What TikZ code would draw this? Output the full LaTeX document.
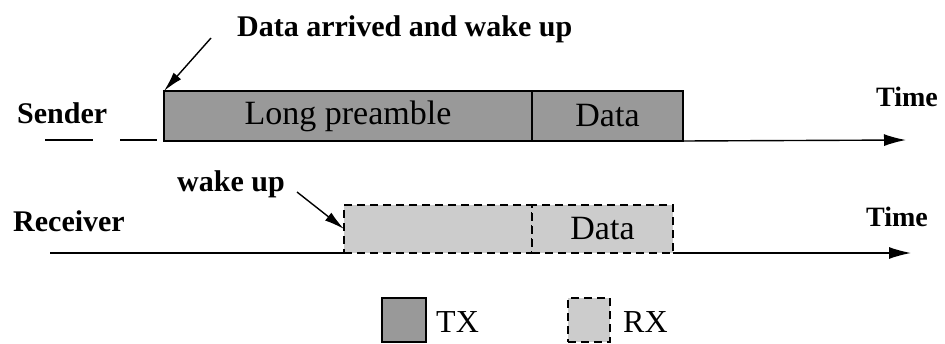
\documentclass[tikz,border=0pt]{standalone}
\usepackage{fontspec}
\setmainfont{Liberation Serif}
\usepackage{tikz}
\usetikzlibrary{arrows.meta}

\begin{document}
\begin{tikzpicture}
 [x=1pt, y=-1pt,
  tx node/.style={draw, line width=2.6pt, fill=black!40, inner sep=0pt, outer sep=0pt, anchor=north west, font=\fontsize{34}{36}\selectfont},
  rx node/.style={draw, line width=1.6pt, dash pattern=on 8pt off 5pt, fill=black!20, inner sep=0pt, outer sep=0pt, anchor=north west, font=\fontsize{34}{36}\selectfont},
  label node/.style={anchor=west, inner sep=0pt, font=\fontsize{30}{32}\selectfont\bfseries},
  time node/.style={anchor=west, inner sep=0pt, font=\fontsize{28}{30}\selectfont\bfseries},
  key node/.style={anchor=west, inner sep=0pt, font=\fontsize{32}{34}\selectfont},
  axis/.style={line width=1.4pt},
  time arrow/.style={line width=1.4pt, -{Latex[length=22pt,width=12pt]}},
  call arrow/.style={line width=1.4pt, -{Latex[length=20pt,width=10pt]}}]

\useasboundingbox (0,0) rectangle (945,343);

% sender
\node[tx node, minimum width=368pt, minimum height=50pt] (pre) at (164,91) {Long preamble};
\node[tx node, minimum width=151pt, minimum height=50pt] (sdata) at (532,91) {Data};
\node[label node] (sender) at (17,113) {Sender};
\node[label node] (arrived) at (237,29) {Data arrived and wake up};
\node[time node] (stime) at (876,97) {Time};
\coordinate (s1) at (45,140);
\coordinate (s2) at (93,140);
\coordinate (s3) at (120,140);
\coordinate (s4) at (157,140);
\coordinate (send) at (906,140);
\coordinate (a1) at (211,38);

% receiver
\node[rx node, minimum width=188pt, minimum height=48pt] (listen) at (344,205) {};
\node[rx node, minimum width=141pt, minimum height=48pt] (rdata) at (532,205) {Data};
\node[label node] (receiver) at (13,221) {Receiver};
\node[label node] (wake) at (177,184) {wake up};
\node[time node] (rtime) at (866,217) {Time};
\coordinate (r1) at (50,253);
\coordinate (rend) at (911,253);
\coordinate (a2) at (297,192);

% legend
\node[tx node, minimum width=44pt, minimum height=44pt] (txkey) at (382,298) {};
\node[key node] (txtext) at (436,322) {TX};
\node[rx node, minimum width=42pt, minimum height=44pt] (rxkey) at (568,298) {};
\node[key node] (rxtext) at (623,322) {RX};

\path
  (s1) edge [axis] (s2)
  (s3) edge [axis] (s4)
  (sdata.south east) edge [time arrow] (send)
  (a1) edge [call arrow] (pre.north west)
  (r1) edge [axis] (listen.south west)
  (rdata.south east) edge [time arrow] (rend)
  (a2) edge [call arrow] (listen.west);

\end{tikzpicture}
\end{document}
